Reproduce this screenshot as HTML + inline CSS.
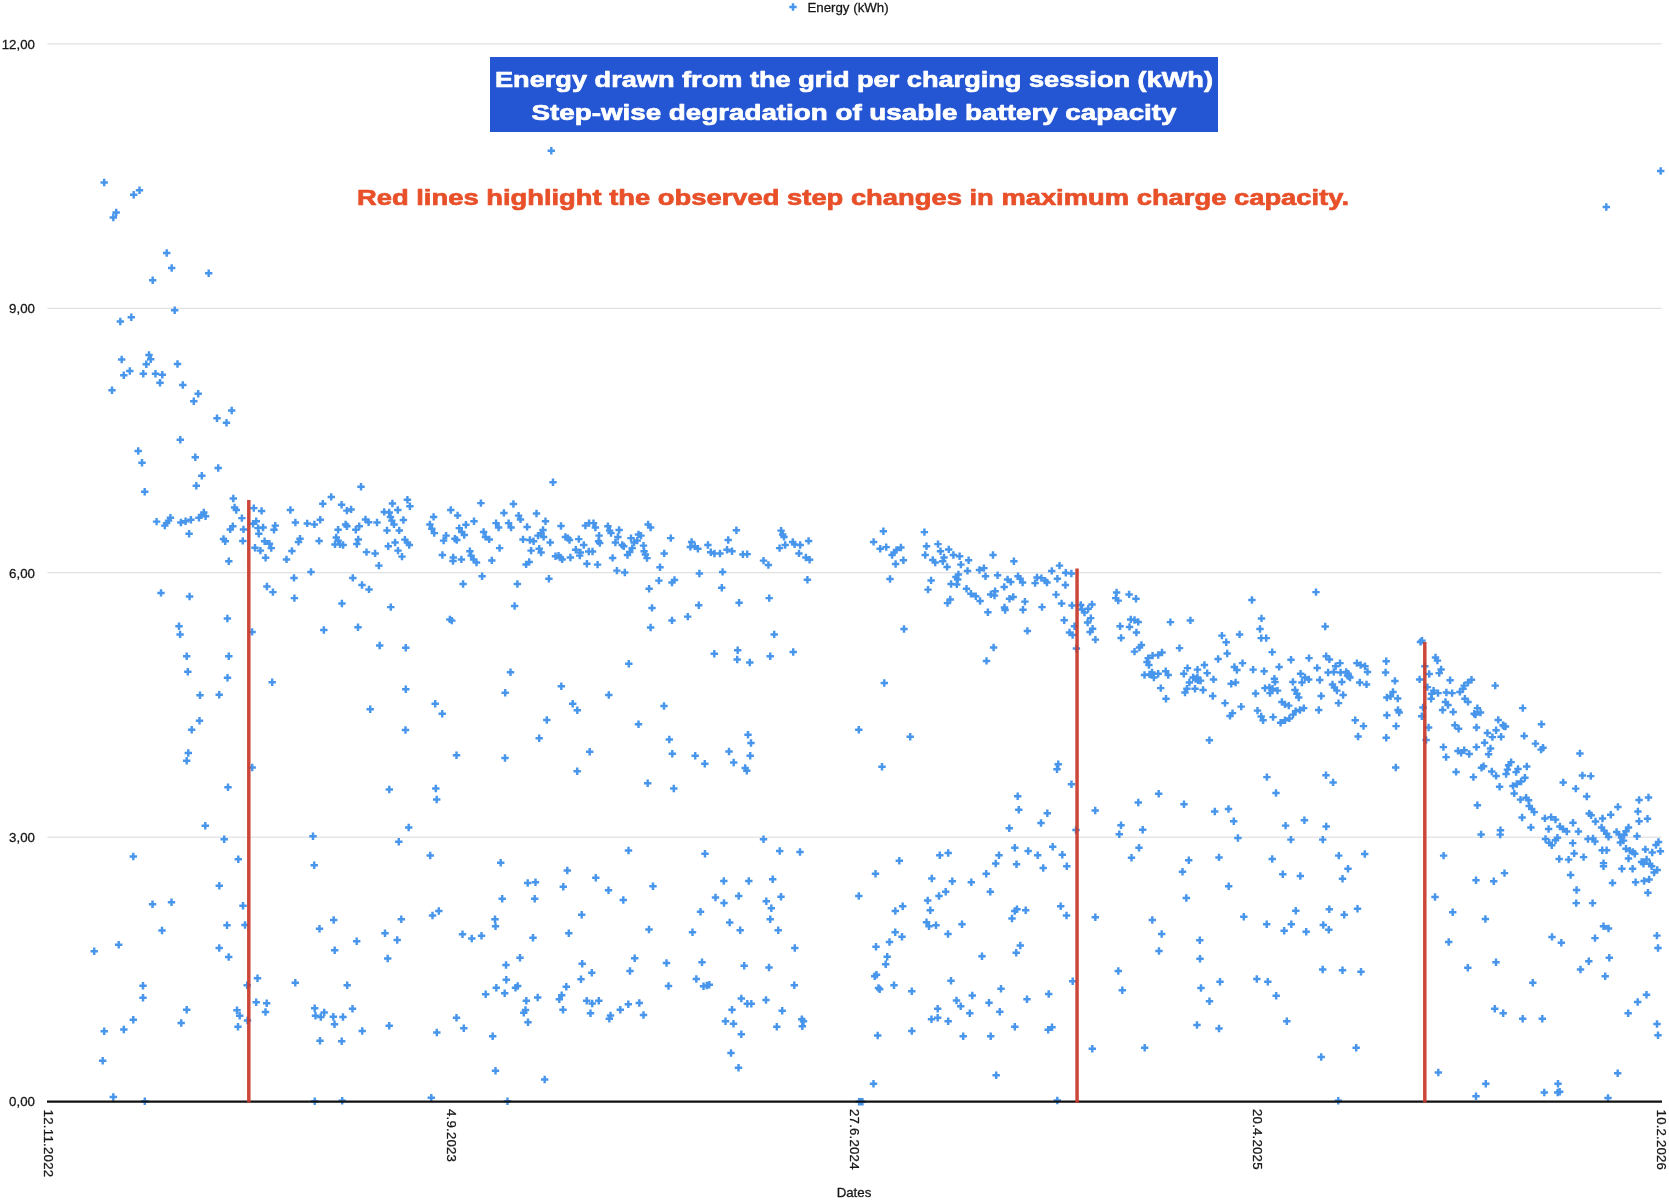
<!DOCTYPE html>
<html>
<head>
<meta charset="utf-8">
<title>Energy drawn from the grid per charging session</title>
<style>
html,body{margin:0;padding:0;background:#fff;}
body{width:1669px;height:1200px;overflow:hidden;position:relative;font-family:"Liberation Sans",sans-serif;}
svg{position:absolute;left:0;top:0;will-change:transform;}
text{font-family:"Liberation Sans",sans-serif;}
.ax{font-size:13.3px;fill:#161616;stroke:#161616;stroke-width:0.28px;}
</style>
</head>
<body>
<svg width="1669" height="1200" viewBox="0 0 1669 1200">
<rect x="0" y="0" width="1669" height="1200" fill="#ffffff"/>
<!-- gridlines -->
<g stroke="#d9d9d9" stroke-width="1">
<line x1="47.4" y1="43.9" x2="1661.6" y2="43.9"/>
<line x1="47.4" y1="308.3" x2="1661.6" y2="308.3"/>
<line x1="47.4" y1="572.75" x2="1661.6" y2="572.75"/>
<line x1="47.4" y1="837.2" x2="1661.6" y2="837.2"/>
</g>
<!-- y labels -->
<g class="ax" text-anchor="end">
<text x="35" y="48.8">12,00</text>
<text x="35" y="313.2">9,00</text>
<text x="35" y="577.6">6,00</text>
<text x="35" y="842">3,00</text>
<text x="35" y="1106.2">0,00</text>
</g>
<!-- legend -->
<path d="M789.3,7h7.4M793,3.3v7.4" stroke="#4896ec" stroke-width="2.45" fill="none"/>
<text class="ax" x="807.4" y="11.5">Energy (kWh)</text>
<!-- title -->
<rect x="490" y="57" width="728" height="75" fill="#2456d3"/>
<g font-weight="bold" font-size="22.3px" fill="#ffffff" stroke="#ffffff" stroke-width="0.7" stroke-linejoin="round" text-anchor="middle">
<text x="854" y="87" textLength="718" lengthAdjust="spacingAndGlyphs">Energy drawn from the grid per charging session (kWh)</text>
<text x="854" y="120" textLength="645" lengthAdjust="spacingAndGlyphs">Step-wise degradation of usable battery capacity</text>
</g>
<text x="853" y="205.4" font-weight="bold" font-size="22.3px" fill="#e8502a" stroke="#e8502a" stroke-width="0.7" stroke-linejoin="round" text-anchor="middle" textLength="992" lengthAdjust="spacingAndGlyphs">Red lines highlight the observed step changes in maximum charge capacity.</text>
<!-- points -->
<path id="pts" d="M100.5,182.5h7.4M104.2,178.8v7.4M135.8,190.2h7.4M139.5,186.5v7.4M130,194.7h7.4M133.7,191v7.4M112.5,212.5h7.4M116.2,208.8v7.4M109.6,217.5h7.4M113.3,213.8v7.4M163,253h7.4M166.7,249.3v7.4M168,268h7.4M171.7,264.3v7.4M205,273.2h7.4M208.7,269.5v7.4M149,280.3h7.4M152.7,276.6v7.4M171,310.2h7.4M174.7,306.5v7.4M127.6,317.2h7.4M131.3,313.5v7.4M116.6,321.5h7.4M120.3,317.8v7.4M118,359.5h7.4M121.7,355.8v7.4M145.3,355h7.4M149,351.3v7.4M147,359.2h7.4M150.7,355.5v7.4M142.6,364.3h7.4M146.3,360.6v7.4M173.8,364h7.4M177.5,360.3v7.4M126.1,371h7.4M129.8,367.3v7.4M120.1,375.3h7.4M123.8,371.6v7.4M139.6,373.8h7.4M143.3,370.1v7.4M151.8,373.8h7.4M155.5,370.1v7.4M158.6,374.7h7.4M162.3,371v7.4M156.3,382.7h7.4M160,379v7.4M179.1,385h7.4M182.8,381.3v7.4M108.3,390.3h7.4M112,386.6v7.4M194.5,393.8h7.4M198.2,390.1v7.4M190.1,401.2h7.4M193.8,397.5v7.4M228,410.5h7.4M231.7,406.8v7.4M213.3,418.3h7.4M217,414.6v7.4M222.8,422.8h7.4M226.5,419.1v7.4M176.6,439.8h7.4M180.3,436.1v7.4M134.5,451h7.4M138.2,447.3v7.4M138.3,462.8h7.4M142,459.1v7.4M191.6,457.3h7.4M195.3,453.6v7.4M214.5,468h7.4M218.2,464.3v7.4M198.1,475.8h7.4M201.8,472.1v7.4M192.6,485.7h7.4M196.3,482v7.4M141,491.7h7.4M144.7,488v7.4M229.6,498.5h7.4M233.3,494.8v7.4M152.9,521.6h7.4M156.6,517.9v7.4M166.7,517.8h7.4M170.4,514v7.4M164.8,520.6h7.4M168.5,516.9v7.4M162.9,523.1h7.4M166.6,519.4v7.4M161.1,525.6h7.4M164.8,521.9v7.4M177.2,522.5h7.4M180.9,518.8v7.4M181.9,521.2h7.4M185.6,517.5v7.4M187.2,519.8h7.4M190.9,516v7.4M195.3,517.8h7.4M199,514v7.4M197.8,515h7.4M201.5,511.3v7.4M200.1,512.5h7.4M203.8,508.8v7.4M201.9,516.2h7.4M205.6,512.5v7.4M185.4,533.8h7.4M189.1,530v7.4M230.9,507.5h7.4M234.6,503.8v7.4M232.6,510h7.4M236.2,506.3v7.4M238.2,518.1h7.4M241.9,514.4v7.4M229.1,526.2h7.4M232.8,522.5v7.4M226.6,529.4h7.4M230.2,525.7v7.4M239.8,529.4h7.4M243.5,525.7v7.4M219.8,539h7.4M223.5,535.3v7.4M221.6,541.2h7.4M225.2,537.5v7.4M239.1,540.9h7.4M242.8,537.2v7.4M225.1,561.2h7.4M228.8,557.5v7.4M157.3,592.9h7.4M161,589.2v7.4M185.9,596.5h7.4M189.6,592.8v7.4M223.7,618.5h7.4M227.4,614.8v7.4M175.3,626.2h7.4M179,622.5v7.4M176.4,634.4h7.4M180.1,630.7v7.4M250.1,508.1h7.4M253.8,504.4v7.4M257.9,510.9h7.4M261.6,507.2v7.4M286.7,510h7.4M290.4,506.3v7.4M319.1,503.8h7.4M322.8,500.1v7.4M327.6,496.9h7.4M331.2,493.2v7.4M337.9,504.8h7.4M341.6,501.1v7.4M343.2,510.6h7.4M346.9,506.9v7.4M252.6,521.2h7.4M256.2,517.5v7.4M249.4,523.8h7.4M253.1,520v7.4M254.4,528.1h7.4M258.1,524.4v7.4M259.4,527.5h7.4M263.1,523.8v7.4M255.1,533.8h7.4M258.8,530v7.4M271.6,525.6h7.4M275.2,521.9v7.4M270.3,529.8h7.4M274,526v7.4M291.7,522.5h7.4M295.4,518.8v7.4M303.6,523.4h7.4M307.2,519.7v7.4M310.7,524.4h7.4M314.4,520.7v7.4M316.6,519.8h7.4M320.2,516v7.4M334.4,529.8h7.4M338.1,526v7.4M341.9,524.4h7.4M345.6,520.7v7.4M343.2,526.2h7.4M346.9,522.5v7.4M260.9,541.2h7.4M264.6,537.5v7.4M265.7,543.8h7.4M269.4,540v7.4M267.6,548.1h7.4M271.2,544.4v7.4M251.3,547.8h7.4M255,544v7.4M256.7,550.6h7.4M260.4,546.9v7.4M261.9,557.8h7.4M265.6,554v7.4M296.3,538.8h7.4M300,535v7.4M294.8,541.9h7.4M298.5,538.2v7.4M288.2,550.9h7.4M291.9,547.2v7.4M282.8,559.4h7.4M286.5,555.7v7.4M315.4,540.9h7.4M319.1,537.2v7.4M332.6,537.5h7.4M336.2,533.8v7.4M334.4,540.6h7.4M338.1,536.9v7.4M331.3,544.4h7.4M335,540.7v7.4M336.3,544.4h7.4M340,540.7v7.4M339.4,545h7.4M343.1,541.3v7.4M307.3,571.9h7.4M311,568.2v7.4M290.3,577.9h7.4M294,574.2v7.4M263.2,586.5h7.4M266.9,582.8v7.4M269.2,592.1h7.4M272.9,588.4v7.4M290.7,598.1h7.4M294.4,594.4v7.4M338.2,603.5h7.4M341.9,599.8v7.4M248.4,631.9h7.4M252.1,628.2v7.4M320.1,630h7.4M323.8,626.3v7.4M357.3,486.8h7.4M361,483.1v7.4M347.4,509.4h7.4M351.1,505.7v7.4M355.6,526.2h7.4M359.2,522.5v7.4M352.1,529.8h7.4M355.8,526v7.4M361.8,519.4h7.4M365.5,515.7v7.4M364.9,522.2h7.4M368.6,518.5v7.4M373.3,522.5h7.4M377,518.8v7.4M354.6,539.4h7.4M358.2,535.7v7.4M353.1,544h7.4M356.8,540.3v7.4M362.8,552.1h7.4M366.5,548.4v7.4M371.4,553.4h7.4M375.1,549.7v7.4M375.2,565.6h7.4M378.9,561.9v7.4M380.6,511.9h7.4M384.2,508.2v7.4M385.6,512.5h7.4M389.2,508.8v7.4M388.7,503.5h7.4M392.4,499.8v7.4M394.1,510h7.4M397.8,506.3v7.4M386.8,516.9h7.4M390.5,513.2v7.4M388.1,520.6h7.4M391.8,516.9v7.4M390.3,524.4h7.4M394,520.7v7.4M403.7,499.8h7.4M407.4,496.1v7.4M406.2,506.2h7.4M409.9,502.6v7.4M399.7,520h7.4M403.4,516.3v7.4M383.3,530.4h7.4M387,526.7v7.4M395.6,530.4h7.4M399.2,526.7v7.4M391.4,542.5h7.4M395.1,538.8v7.4M384.6,546.2h7.4M388.2,542.5v7.4M401.2,539.6h7.4M404.9,535.9v7.4M403.7,542.5h7.4M407.4,538.8v7.4M405.6,545h7.4M409.2,541.3v7.4M394.3,550.6h7.4M398,546.9v7.4M398.3,556.6h7.4M402,552.9v7.4M349.1,577.9h7.4M352.8,574.2v7.4M358.3,585h7.4M362,581.3v7.4M365.3,589.4h7.4M369,585.7v7.4M387.1,607.1h7.4M390.8,603.4v7.4M354.3,627.2h7.4M358,623.5v7.4M429.9,516.9h7.4M433.6,513.2v7.4M426.2,524.4h7.4M429.9,520.7v7.4M428.1,528.8h7.4M431.8,525v7.4M430.6,533.1h7.4M434.2,529.4v7.4M447.1,510h7.4M450.8,506.3v7.4M453.9,515.4h7.4M457.6,511.7v7.4M470.3,521.2h7.4M474,517.5v7.4M462.2,524.8h7.4M465.9,521v7.4M455.6,528.1h7.4M459.2,524.4v7.4M458.1,531.9h7.4M461.8,528.2v7.4M460.6,535h7.4M464.2,531.3v7.4M442.4,535.6h7.4M446.1,531.9v7.4M439.9,540.6h7.4M443.6,536.9v7.4M451.2,538.8h7.4M454.9,535v7.4M453.1,540h7.4M456.8,536.3v7.4M438.7,555h7.4M442.4,551.3v7.4M449.6,557.5h7.4M453.2,553.8v7.4M449.3,561h7.4M453,557.3v7.4M457.7,559.4h7.4M461.4,555.7v7.4M466.2,551.2h7.4M469.9,547.5v7.4M467.4,555.6h7.4M471.1,551.9v7.4M469.9,559.4h7.4M473.6,555.7v7.4M472.8,562.5h7.4M476.5,558.8v7.4M477.2,503.1h7.4M480.9,499.4v7.4M479.9,531.9h7.4M483.6,528.2v7.4M481.8,536.9h7.4M485.5,533.2v7.4M485.6,539.4h7.4M489.2,535.7v7.4M495.9,548.1h7.4M499.6,544.4v7.4M488.1,560.4h7.4M491.8,556.7v7.4M478.4,576.2h7.4M482.1,572.5v7.4M459.4,584h7.4M463.1,580.3v7.4M446.2,619.4h7.4M449.9,615.7v7.4M448.1,620.6h7.4M451.8,616.9v7.4M500.2,512.9h7.4M503.9,509.2v7.4M509.7,504h7.4M513.4,500.3v7.4M492.4,523.1h7.4M496.1,519.4v7.4M494.9,527.5h7.4M498.6,523.8v7.4M504.9,523.1h7.4M508.6,519.4v7.4M507.4,527.5h7.4M511.1,523.8v7.4M514.9,515.6h7.4M518.6,511.9v7.4M516.8,519.4h7.4M520.5,515.7v7.4M523.4,526.9h7.4M527.1,523.2v7.4M532.8,513.5h7.4M536.5,509.8v7.4M541.8,521.2h7.4M545.5,517.5v7.4M539.3,530h7.4M543,526.3v7.4M537.4,533.1h7.4M541.1,529.4v7.4M534.3,535.6h7.4M538,531.9v7.4M539.9,536.9h7.4M543.6,533.2v7.4M519.3,539.4h7.4M523,535.7v7.4M526.2,540h7.4M529.9,536.3v7.4M529.9,541.2h7.4M533.6,537.5v7.4M546.5,542.5h7.4M550.2,538.8v7.4M527.4,550.6h7.4M531.1,546.9v7.4M535.5,548.8h7.4M539.2,545v7.4M537.4,552.5h7.4M541.1,548.8v7.4M525.5,561.9h7.4M529.2,558.2v7.4M522.4,564.4h7.4M526.1,560.7v7.4M551.8,556.2h7.4M555.5,552.5v7.4M545.2,578.8h7.4M548.9,575v7.4M513.7,584h7.4M517.4,580.3v7.4M510.9,606h7.4M514.6,602.3v7.4M557.3,526h7.4M561,522.3v7.4M561.7,536.9h7.4M565.4,533.2v7.4M564.2,538.1h7.4M567.9,534.4v7.4M565.8,540h7.4M569.5,536.3v7.4M575,539.1h7.4M578.8,535.4v7.4M580,545h7.4M583.8,541.3v7.4M572,549.8h7.4M575.8,546v7.4M576.7,552.5h7.4M580.4,548.8v7.4M576,555.6h7.4M579.8,551.9v7.4M585,551.5h7.4M588.8,547.8v7.4M588.8,551.5h7.4M592.5,547.8v7.4M554.8,555.6h7.4M558.5,551.9v7.4M556.7,557.5h7.4M560.4,553.8v7.4M558.5,559.4h7.4M562.2,555.7v7.4M566.7,557.5h7.4M570.4,553.8v7.4M583.2,563.8h7.4M586.9,560v7.4M593.9,564.6h7.4M597.6,560.9v7.4M581.7,525.6h7.4M585.4,521.9v7.4M585.4,523.1h7.4M589.1,519.4v7.4M589.8,523.1h7.4M593.5,519.4v7.4M591.7,527.5h7.4M595.4,523.8v7.4M595.4,535.6h7.4M599.1,531.9v7.4M594.8,541.2h7.4M598.5,537.5v7.4M596,543.1h7.4M599.8,539.4v7.4M604.2,526.2h7.4M607.9,522.5v7.4M606,530.6h7.4M609.8,526.9v7.4M607.3,533.1h7.4M611,529.4v7.4M615.4,530h7.4M619.1,526.3v7.4M614.2,536.9h7.4M617.9,533.2v7.4M611.7,542.5h7.4M615.4,538.8v7.4M618.5,545h7.4M622.2,541.3v7.4M620,546.2h7.4M623.8,542.5v7.4M608.9,557.9h7.4M612.6,554.2v7.4M613.2,570.6h7.4M616.9,566.9v7.4M621,572.5h7.4M624.8,568.8v7.4M627.3,538.1h7.4M631,534.4v7.4M630.4,542.5h7.4M634.1,538.8v7.4M628.5,548.1h7.4M632.2,544.4v7.4M626,551.9h7.4M629.8,548.2v7.4M623.8,555h7.4M627.5,551.3v7.4M634.8,534.4h7.4M638.5,530.7v7.4M637.3,535.6h7.4M641,531.9v7.4M633.5,540.6h7.4M637.2,536.9v7.4M639.8,545.6h7.4M643.5,541.9v7.4M640.4,551.2h7.4M644.1,547.5v7.4M641.7,554.4h7.4M645.4,550.7v7.4M643.3,558.1h7.4M647,554.4v7.4M644.4,524.4h7.4M648.1,520.7v7.4M646.9,527.5h7.4M650.6,523.8v7.4M667,538.1h7.4M670.8,534.4v7.4M660.5,553.4h7.4M664.2,549.7v7.4M656.3,567.2h7.4M660,563.5v7.4M655.2,580.6h7.4M658.9,576.9v7.4M670.8,580h7.4M674.5,576.3v7.4M668.3,582.5h7.4M672,578.8v7.4M645.4,588.8h7.4M649.1,585v7.4M648.3,607.9h7.4M652,604.2v7.4M646.9,627.5h7.4M650.6,623.8v7.4M668.3,620.4h7.4M672,616.7v7.4M684,616.6h7.4M687.8,612.9v7.4M695,605.2h7.4M698.8,601.5v7.4M695.7,573.5h7.4M699.4,569.8v7.4M687.9,541.9h7.4M691.6,538.2v7.4M686.7,546.9h7.4M690.4,543.2v7.4M691,546.2h7.4M694.8,542.5v7.4M694.2,548.8h7.4M697.9,545v7.4M704.2,545h7.4M707.9,541.3v7.4M707,552.2h7.4M710.8,548.5v7.4M710.8,553.5h7.4M714.5,549.8v7.4M716.3,553.5h7.4M720,549.8v7.4M723.3,549.8h7.4M727,546v7.4M728.3,551.2h7.4M732,547.5v7.4M724.5,540h7.4M728.2,536.3v7.4M732.7,530.2h7.4M736.4,526.5v7.4M739.2,554.4h7.4M742.9,550.7v7.4M743.5,554.1h7.4M747.2,550.4v7.4M718.9,571.9h7.4M722.6,568.2v7.4M718,587.8h7.4M721.8,584v7.4M735.4,602.8h7.4M739.1,599v7.4M759.8,560.6h7.4M763.5,556.9v7.4M764.7,565h7.4M768.4,561.3v7.4M777.4,530.6h7.4M781.1,526.9v7.4M779,534.4h7.4M782.8,530.7v7.4M780.3,536.9h7.4M784,533.2v7.4M775.9,548.1h7.4M779.6,544.4v7.4M781.5,545h7.4M785.2,541.3v7.4M789,541.9h7.4M792.8,538.2v7.4M790.9,544.4h7.4M794.6,540.7v7.4M796.5,545h7.4M800.2,541.3v7.4M804.9,540.9h7.4M808.6,537.2v7.4M795.3,553.4h7.4M799,549.7v7.4M802.2,557.5h7.4M805.9,553.8v7.4M805.9,559.8h7.4M809.6,556v7.4M803.7,579.8h7.4M807.4,576v7.4M765.5,598.1h7.4M769.2,594.4v7.4M770.5,634.4h7.4M774.2,630.7v7.4M879.7,531.2h7.4M883.4,527.5v7.4M869.9,541.9h7.4M873.6,538.2v7.4M876.5,548.8h7.4M880.2,545v7.4M882.5,547.1h7.4M886.2,543.4v7.4M897.2,547.5h7.4M900.9,543.8v7.4M892.8,550h7.4M896.5,546.3v7.4M890.3,552.5h7.4M894,548.8v7.4M888.4,555h7.4M892.1,551.3v7.4M899.7,560.2h7.4M903.4,556.5v7.4M891.9,564h7.4M895.6,560.3v7.4M886.3,579h7.4M890,575.3v7.4M900.3,629h7.4M904,625.3v7.4M920.7,532.1h7.4M924.4,528.4v7.4M922.8,546.2h7.4M926.5,542.5v7.4M921.5,555h7.4M925.2,551.3v7.4M934.3,544.1h7.4M938,540.4v7.4M936.8,551.2h7.4M940.5,547.5v7.4M945,549.4h7.4M948.8,545.7v7.4M940.3,557.5h7.4M944,553.8v7.4M939,561.2h7.4M942.8,557.5v7.4M929,560h7.4M932.8,556.3v7.4M931.5,562.5h7.4M935.2,558.8v7.4M949.7,555h7.4M953.4,551.3v7.4M955.9,556.2h7.4M959.6,552.5v7.4M943.4,566.9h7.4M947.1,563.2v7.4M957.2,564.6h7.4M960.9,560.9v7.4M964.9,560.2h7.4M968.6,556.5v7.4M963.8,570.9h7.4M967.5,567.2v7.4M954.7,574.4h7.4M958.4,570.7v7.4M952.2,576.9h7.4M955.9,573.2v7.4M954,579.4h7.4M957.8,575.7v7.4M947.4,584h7.4M951.1,580.3v7.4M953,584.4h7.4M956.8,580.7v7.4M927.4,580.4h7.4M931.1,576.7v7.4M924.3,589.6h7.4M928,585.9v7.4M946.5,599.4h7.4M950.2,595.7v7.4M943.8,603.1h7.4M947.5,599.4v7.4M962.8,588.8h7.4M966.5,585v7.4M967.2,593.8h7.4M970.9,590v7.4M972,596.2h7.4M975.8,592.5v7.4M976.4,601h7.4M980.1,597.3v7.4M989.3,555h7.4M993,551.3v7.4M1010.2,561.2h7.4M1013.9,557.5v7.4M975.8,570h7.4M979.5,566.3v7.4M980.2,568.1h7.4M983.9,564.4v7.4M981.8,576.2h7.4M985.5,572.5v7.4M993.9,575.2h7.4M997.6,571.5v7.4M1003.9,579.4h7.4M1007.6,575.7v7.4M1007,581.9h7.4M1010.8,578.2v7.4M1000.5,586.9h7.4M1004.2,583.2v7.4M1014.3,576.2h7.4M1018,572.5v7.4M1016.4,578.8h7.4M1020.1,575v7.4M1018.9,582.5h7.4M1022.6,578.8v7.4M987,594.4h7.4M990.8,590.7v7.4M991.4,591.2h7.4M995.1,587.5v7.4M990.8,595.6h7.4M994.5,591.9v7.4M1005.8,598.8h7.4M1009.5,595v7.4M1009.5,596.9h7.4M1013.2,593.2v7.4M1000.8,607.5h7.4M1004.5,603.8v7.4M1001.4,610h7.4M1005.1,606.3v7.4M984.2,612.2h7.4M987.9,608.5v7.4M1021.2,601.6h7.4M1024.9,597.9v7.4M1019.3,609.8h7.4M1023,606v7.4M1038.3,607.1h7.4M1042,603.4v7.4M1023.7,630.9h7.4M1027.4,627.2v7.4M989.9,647.5h7.4M993.6,643.8v7.4M982.8,660.9h7.4M986.5,657.2v7.4M1033.3,577.5h7.4M1037,573.8v7.4M1031.4,583.1h7.4M1035.1,579.4v7.4M1037.7,578.1h7.4M1041.4,574.4v7.4M1041.4,580.6h7.4M1045.1,576.9v7.4M1043.3,582.5h7.4M1047,578.8v7.4M1048,570.9h7.4M1051.8,567.2v7.4M1055.8,565.6h7.4M1059.5,561.9v7.4M1062,572.8h7.4M1065.8,569v7.4M1067.7,573.5h7.4M1071.4,569.8v7.4M1053.7,578.8h7.4M1057.4,575v7.4M1061.7,585h7.4M1065.4,581.3v7.4M1052.4,594.6h7.4M1056.1,590.9v7.4M1057.9,603.4h7.4M1061.6,599.7v7.4M1068.3,605.4h7.4M1072,601.7v7.4M1060.5,620.2h7.4M1064.2,616.5v7.4M1065.8,632.5h7.4M1069.5,628.8v7.4M1068.9,635h7.4M1072.6,631.3v7.4M1070.8,626.2h7.4M1074.5,622.5v7.4M1072.7,648.5h7.4M1076.4,644.8v7.4M1077,605h7.4M1080.8,601.3v7.4M1078.3,609.4h7.4M1082,605.7v7.4M1080.8,612.5h7.4M1084.5,608.8v7.4M1084.5,608.8h7.4M1088.2,605v7.4M1088.3,604.4h7.4M1092,600.7v7.4M1087,618.1h7.4M1090.8,614.4v7.4M1083.9,622.5h7.4M1087.6,618.8v7.4M1088.9,628.8h7.4M1092.6,625v7.4M1086.4,631.9h7.4M1090.1,628.2v7.4M1091.7,639.6h7.4M1095.4,635.9v7.4M1112.9,592.5h7.4M1116.6,588.8v7.4M1112,598.1h7.4M1115.8,594.4v7.4M1114.5,600.6h7.4M1118.2,596.9v7.4M1125.4,594.4h7.4M1129.1,590.7v7.4M1132.3,598.8h7.4M1136,595v7.4M1127,619.4h7.4M1130.8,615.7v7.4M1130.8,620h7.4M1134.5,616.3v7.4M1134.5,621.9h7.4M1138.2,618.2v7.4M1125.8,626.9h7.4M1129.5,623.2v7.4M1116.4,626.2h7.4M1120.1,622.5v7.4M1132.7,632.5h7.4M1136.4,628.8v7.4M1117.4,637.9h7.4M1121.1,634.2v7.4M1166.7,622.1h7.4M1170.4,618.4v7.4M1137.7,645h7.4M1141.4,641.3v7.4M1135.8,647.5h7.4M1139.5,643.8v7.4M1130.8,651.6h7.4M1134.5,647.9v7.4M1158.3,652.5h7.4M1162,648.8v7.4M1154.5,655h7.4M1158.2,651.3v7.4M1148.9,655.6h7.4M1152.6,651.9v7.4M1144.5,658.1h7.4M1148.2,654.4v7.4M1143.3,661.9h7.4M1147,658.2v7.4M1145.2,665h7.4M1148.9,661.3v7.4M1140.8,675h7.4M1144.5,671.3v7.4M1145.8,674.4h7.4M1149.5,670.7v7.4M1148.3,672.5h7.4M1152,668.8v7.4M1150.2,677.5h7.4M1153.9,673.8v7.4M1154.5,673.8h7.4M1158.2,670v7.4M1162,671.2h7.4M1165.8,667.5v7.4M1164.5,675h7.4M1168.2,671.3v7.4M1157,688.1h7.4M1160.8,684.4v7.4M1175.8,648.1h7.4M1179.5,644.4v7.4M1186.7,620.4h7.4M1190.4,616.7v7.4M1248.2,600h7.4M1251.9,596.3v7.4M1312.3,592.1h7.4M1316,588.4v7.4M1257.8,618.4h7.4M1261.5,614.7v7.4M1256.3,629h7.4M1260,625.3v7.4M1257.5,638.1h7.4M1261.2,634.4v7.4M1262.5,638.1h7.4M1266.2,634.4v7.4M1321.5,626.5h7.4M1325.2,622.8v7.4M1218.2,635.6h7.4M1221.9,631.9v7.4M1222.5,642.2h7.4M1226.2,638.5v7.4M1235.9,634.4h7.4M1239.6,630.7v7.4M1223.5,653.5h7.4M1227.2,649.8v7.4M1214.4,659h7.4M1218.1,655.3v7.4M1268.5,652.1h7.4M1272.2,648.4v7.4M1287.3,659.8h7.4M1291,656v7.4M1305.3,658.1h7.4M1309,654.4v7.4M1322.5,656.2h7.4M1326.2,652.5v7.4M1325.7,659.4h7.4M1329.4,655.7v7.4M1200.7,665h7.4M1204.4,661.3v7.4M1193.8,669.6h7.4M1197.5,665.9v7.4M1183.8,668.1h7.4M1187.5,664.4v7.4M1180,673.8h7.4M1183.8,670v7.4M1203.5,673.1h7.4M1207.2,669.4v7.4M1209.8,679.4h7.4M1213.5,675.7v7.4M1238.8,663.1h7.4M1242.5,659.4v7.4M1230.7,666.9h7.4M1234.4,663.2v7.4M1233.2,670h7.4M1236.9,666.3v7.4M1249.4,669.6h7.4M1253.1,665.9v7.4M1260.4,671.2h7.4M1264.1,667.5v7.4M1275.4,666.9h7.4M1279.1,663.2v7.4M1313.5,667.9h7.4M1317.2,664.2v7.4M1336.3,663.1h7.4M1340,659.4v7.4M1331.9,666.2h7.4M1335.6,662.5v7.4M1324.4,672.5h7.4M1328.1,668.8v7.4M1330,671.9h7.4M1333.8,668.2v7.4M1336.9,672.5h7.4M1340.6,668.8v7.4M1342.5,671.9h7.4M1346.2,668.2v7.4M1343.8,675.6h7.4M1347.5,671.9v7.4M1346.3,677.5h7.4M1350,673.8v7.4M1353.2,663.1h7.4M1356.9,659.4v7.4M1356.9,665h7.4M1360.6,661.3v7.4M1361.3,666.2h7.4M1365,662.5v7.4M1363.8,671.9h7.4M1367.5,668.2v7.4M1382.5,661.2h7.4M1386.2,657.5v7.4M1381.9,672.5h7.4M1385.6,668.8v7.4M1189.4,677.5h7.4M1193.1,673.8v7.4M1193.8,677.5h7.4M1197.5,673.8v7.4M1196.9,680.6h7.4M1200.6,676.9v7.4M1185.7,682.5h7.4M1189.4,678.8v7.4M1183.2,688.8h7.4M1186.9,685v7.4M1181.3,692.5h7.4M1185,688.8v7.4M1191.3,688.8h7.4M1195,685v7.4M1199.4,690h7.4M1203.1,686.3v7.4M1209,696h7.4M1212.8,692.3v7.4M1227.5,683.8h7.4M1231.2,680v7.4M1231.9,682.5h7.4M1235.6,678.8v7.4M1270.7,678.8h7.4M1274.4,675v7.4M1271.3,681.9h7.4M1275,678.2v7.4M1296.9,673.8h7.4M1300.6,670v7.4M1301.3,677.5h7.4M1305,673.8v7.4M1305,679.4h7.4M1308.8,675.7v7.4M1298.2,682.5h7.4M1301.9,678.8v7.4M1289.2,681.9h7.4M1292.9,678.2v7.4M1316,680h7.4M1319.8,676.3v7.4M1338.2,681.9h7.4M1341.9,678.2v7.4M1356,682.5h7.4M1359.8,678.8v7.4M1362.8,684.4h7.4M1366.5,680.7v7.4M1328.8,684.4h7.4M1332.5,680.7v7.4M1330.7,687.5h7.4M1334.4,683.8v7.4M1333.2,690.6h7.4M1336.9,686.9v7.4M1339.4,695h7.4M1343.1,691.3v7.4M1261.3,688.1h7.4M1265,684.4v7.4M1265.7,687.5h7.4M1269.4,683.8v7.4M1268.8,688.8h7.4M1272.5,685v7.4M1266.3,693.1h7.4M1270,689.4v7.4M1273.8,690.6h7.4M1277.5,686.9v7.4M1251.9,693.5h7.4M1255.6,689.8v7.4M1291.3,690h7.4M1295,686.3v7.4M1293.2,693.8h7.4M1296.9,690v7.4M1295,697.5h7.4M1298.8,693.8v7.4M1317.5,696h7.4M1321.2,692.3v7.4M1334.8,703.1h7.4M1338.5,699.4v7.4M1221.3,703.1h7.4M1225,699.4v7.4M1237.5,706.6h7.4M1241.2,702.9v7.4M1278.2,701.9h7.4M1281.9,698.2v7.4M1281.3,704.4h7.4M1285,700.7v7.4M1285,705.6h7.4M1288.8,701.9v7.4M1300,708.1h7.4M1303.8,704.4v7.4M1296.3,710h7.4M1300,706.3v7.4M1291.9,711.2h7.4M1295.6,707.5v7.4M1315,710h7.4M1318.8,706.3v7.4M1253.8,710.6h7.4M1257.5,706.9v7.4M1228.8,713.1h7.4M1232.5,709.4v7.4M1383.2,697.5h7.4M1386.9,693.8v7.4M1416.8,641.9h7.4M1420.5,638.2v7.4M1418.3,640.6h7.4M1422,636.9v7.4M1431.8,657.5h7.4M1435.5,653.8v7.4M1433.7,660.6h7.4M1437.4,656.9v7.4M1421.2,666.2h7.4M1424.9,662.5v7.4M1437.4,669.4h7.4M1441.1,665.7v7.4M1435.5,673.1h7.4M1439.2,669.4v7.4M1425.5,674h7.4M1429.2,670.3v7.4M1415.9,679.4h7.4M1419.6,675.7v7.4M1391.2,680.9h7.4M1394.9,677.2v7.4M1446.4,680.2h7.4M1450.1,676.5v7.4M1467.8,679.8h7.4M1471.5,676v7.4M1464.3,682.5h7.4M1468,678.8v7.4M1460.5,685.6h7.4M1464.2,681.9v7.4M1459.3,688.8h7.4M1463,685v7.4M1456.2,691.9h7.4M1459.9,688.2v7.4M1491.5,685.6h7.4M1495.2,681.9v7.4M1423.7,687.1h7.4M1427.4,683.4v7.4M1389.3,691.9h7.4M1393,688.2v7.4M1386.8,696.2h7.4M1390.5,692.5v7.4M1394,698.5h7.4M1397.8,694.8v7.4M1429.9,690.6h7.4M1433.6,686.9v7.4M1428,693.8h7.4M1431.8,690v7.4M1434.3,693.1h7.4M1438,689.4v7.4M1427.4,698.8h7.4M1431.1,695v7.4M1442.7,692.5h7.4M1446.4,688.8v7.4M1448.4,693.1h7.4M1452.1,689.4v7.4M1461.2,698.8h7.4M1464.9,695v7.4M1464.3,701.9h7.4M1468,698.2v7.4M1441.8,701.9h7.4M1445.5,698.2v7.4M1444.3,705h7.4M1448,701.3v7.4M1438.9,710h7.4M1442.6,706.3v7.4M1449.5,711.9h7.4M1453.2,708.2v7.4M1394.3,710h7.4M1398,706.3v7.4M1395.5,712.5h7.4M1399.2,708.8v7.4M1419.3,707.5h7.4M1423,703.8v7.4M1473.7,708.1h7.4M1477.4,704.4v7.4M1476.8,712.5h7.4M1480.5,708.8v7.4M1470.5,713.8h7.4M1474.2,710v7.4M1519,708.1h7.4M1522.8,704.4v7.4M1226.3,715.9h7.4M1230,712.2v7.4M1257.5,716.5h7.4M1261.2,712.8v7.4M1259.4,720.2h7.4M1263.1,716.5v7.4M1269.4,717.1h7.4M1273.1,713.4v7.4M1276.9,722.8h7.4M1280.6,719v7.4M1281.3,720.2h7.4M1285,716.5v7.4M1285.7,718.4h7.4M1289.4,714.7v7.4M1289.4,714.6h7.4M1293.1,710.9v7.4M1351.5,720.2h7.4M1355.2,716.5v7.4M1359.8,726.1h7.4M1363.5,722.4v7.4M1354.4,736.5h7.4M1358.1,732.8v7.4M1382.5,737.8h7.4M1386.2,734v7.4M1383.2,715.2h7.4M1386.9,711.5v7.4M1205.7,740.2h7.4M1209.4,736.5v7.4M1263.2,777.1h7.4M1266.9,773.4v7.4M1272.3,793h7.4M1276,789.3v7.4M1322.3,775.2h7.4M1326,771.5v7.4M1329.4,782.4h7.4M1333.1,778.7v7.4M1180.3,804.2h7.4M1184,800.5v7.4M1211,811.5h7.4M1214.8,807.8v7.4M1224.8,809h7.4M1228.5,805.3v7.4M1230,821.2h7.4M1233.8,817.5v7.4M1234.2,838h7.4M1237.9,834.3v7.4M1281.9,825.6h7.4M1285.6,821.9v7.4M1300.7,820.2h7.4M1304.4,816.5v7.4M1322.5,826.5h7.4M1326.2,822.8v7.4M1287.2,839.6h7.4M1290.9,835.9v7.4M1319,839.6h7.4M1322.8,835.9v7.4M1335,855.6h7.4M1338.8,851.9v7.4M1361,854h7.4M1364.8,850.3v7.4M1215.3,857.4h7.4M1219,853.7v7.4M1268.5,859h7.4M1272.2,855.3v7.4M1185,860.2h7.4M1188.8,856.5v7.4M1418,716.2h7.4M1421.8,712.5v7.4M1392.4,726.1h7.4M1396.1,722.4v7.4M1392,767.5h7.4M1395.8,763.8v7.4M1424.9,727.5h7.4M1428.6,723.8v7.4M1422.4,740h7.4M1426.1,736.3v7.4M1451.2,725.2h7.4M1454.9,721.5v7.4M1454.9,728.8h7.4M1458.6,725v7.4M1472.8,727.5h7.4M1476.5,723.8v7.4M1494.5,719.9h7.4M1498.2,716.2v7.4M1499.3,725.2h7.4M1503,721.5v7.4M1501.8,726.5h7.4M1505.5,722.8v7.4M1492.4,730.2h7.4M1496.1,726.5v7.4M1497.4,736.8h7.4M1501.1,733v7.4M1483.7,733h7.4M1487.4,729.3v7.4M1488.7,737.1h7.4M1492.4,733.4v7.4M1480.9,742.8h7.4M1484.6,739v7.4M1472.7,747.1h7.4M1476.4,743.4v7.4M1439.7,747.1h7.4M1443.4,743.4v7.4M1442.4,757.1h7.4M1446.1,753.4v7.4M1454.3,750.9h7.4M1458,747.2v7.4M1457.4,752.8h7.4M1461.1,749v7.4M1460.5,750.2h7.4M1464.2,746.5v7.4M1465.5,754h7.4M1469.2,750.3v7.4M1486.8,748.4h7.4M1490.5,744.7v7.4M1484.9,754.2h7.4M1488.6,750.5v7.4M1537.8,724.2h7.4M1541.5,720.5v7.4M1520.5,735.9h7.4M1524.2,732.2v7.4M1531.8,743.6h7.4M1535.5,739.9v7.4M1537.4,749.6h7.4M1541.1,745.9v7.4M1539.3,747.8h7.4M1543,744v7.4M1576.2,753.4h7.4M1579.9,749.7v7.4M1477.8,767.8h7.4M1481.5,764v7.4M1479.9,766.2h7.4M1483.6,762.5v7.4M1452.4,771.9h7.4M1456.1,768.2v7.4M1469.7,777.1h7.4M1473.4,773.4v7.4M1488,771.5h7.4M1491.8,767.8v7.4M1492.4,775.9h7.4M1496.1,772.2v7.4M1507.4,762.1h7.4M1511.1,758.4v7.4M1504.9,765.2h7.4M1508.6,761.5v7.4M1503.7,769.6h7.4M1507.4,765.9v7.4M1502.4,774h7.4M1506.1,770.3v7.4M1514.3,769h7.4M1518,765.3v7.4M1512.4,772.1h7.4M1516.1,768.4v7.4M1523,766.5h7.4M1526.8,762.8v7.4M1521.2,777.8h7.4M1524.9,774v7.4M1517.4,781.5h7.4M1521.1,777.8v7.4M1513,784h7.4M1516.8,780.3v7.4M1509.3,785.9h7.4M1513,782.2v7.4M1495.9,786.8h7.4M1499.6,783v7.4M1510.5,793.4h7.4M1514.2,789.7v7.4M1516.8,799.6h7.4M1520.5,795.9v7.4M1522.4,797.8h7.4M1526.1,794v7.4M1524.9,800.2h7.4M1528.6,796.5v7.4M1525.5,805.9h7.4M1529.2,802.2v7.4M1528,809h7.4M1531.8,805.3v7.4M1530.5,812.1h7.4M1534.2,808.4v7.4M1473.7,805.2h7.4M1477.4,801.5v7.4M1518.4,817.5h7.4M1522.1,813.8v7.4M1527.2,827.4h7.4M1530.9,823.7v7.4M1559.5,782.4h7.4M1563.2,778.7v7.4M1578.7,775.5h7.4M1582.4,771.8v7.4M1587,776.1h7.4M1590.8,772.4v7.4M1572,788.6h7.4M1575.8,784.9v7.4M1583,796.5h7.4M1586.8,792.8v7.4M1585.5,813.4h7.4M1589.2,809.7v7.4M1587.4,815.2h7.4M1591.1,811.5v7.4M1591.8,821.5h7.4M1595.5,817.8v7.4M1541.2,818.4h7.4M1544.9,814.7v7.4M1547.4,817.1h7.4M1551.1,813.4v7.4M1551.8,819.6h7.4M1555.5,815.9v7.4M1569.3,822.8h7.4M1573,819v7.4M1544.9,829h7.4M1548.6,825.3v7.4M1556.2,826.5h7.4M1559.9,822.8v7.4M1559.3,829h7.4M1563,825.3v7.4M1563,831.5h7.4M1566.8,827.8v7.4M1574.7,831.5h7.4M1578.4,827.8v7.4M1477.4,834.4h7.4M1481.1,830.7v7.4M1496.8,830.2h7.4M1500.5,826.5v7.4M1496.5,834.6h7.4M1500.2,830.9v7.4M1541.8,839h7.4M1545.5,835.3v7.4M1545.5,842.8h7.4M1549.2,839v7.4M1548,845.2h7.4M1551.8,841.5v7.4M1551.8,840.2h7.4M1555.5,836.5v7.4M1553.7,837.8h7.4M1557.4,834v7.4M1569,843.1h7.4M1572.8,839.4v7.4M1584.3,839h7.4M1588,835.3v7.4M1589.3,838.4h7.4M1593,834.7v7.4M1591.2,841.5h7.4M1594.9,837.8v7.4M1439.9,855.6h7.4M1443.6,851.9v7.4M1570.5,853.4h7.4M1574.2,849.7v7.4M1555.5,859h7.4M1559.2,855.3v7.4M1564.9,859.6h7.4M1568.6,855.9v7.4M1579.9,857.1h7.4M1583.6,853.4v7.4M1614.2,806.9h7.4M1617.9,803.2v7.4M1607,814.8h7.4M1610.8,811v7.4M1598.8,818.5h7.4M1602.5,814.8v7.4M1635.4,800h7.4M1639.1,796.3v7.4M1644.8,797.5h7.4M1648.5,793.8v7.4M1634.2,811.5h7.4M1637.9,807.8v7.4M1635.4,821.2h7.4M1639.1,817.5v7.4M1643.8,818.8h7.4M1647.5,815v7.4M1597.9,827.5h7.4M1601.6,823.8v7.4M1600.4,830.6h7.4M1604.1,826.9v7.4M1602.9,833.8h7.4M1606.6,830v7.4M1604.8,836.9h7.4M1608.5,833.2v7.4M1612.9,831.9h7.4M1616.6,828.2v7.4M1615.4,834.4h7.4M1619.1,830.7v7.4M1617.9,837.5h7.4M1621.6,833.8v7.4M1624.8,827.5h7.4M1628.5,823.8v7.4M1622.3,831.2h7.4M1626,827.5v7.4M1620.4,835h7.4M1624.1,831.3v7.4M1616.7,842.5h7.4M1620.4,838.8v7.4M1619.8,840.6h7.4M1623.5,836.9v7.4M1633.3,836.2h7.4M1637,832.5v7.4M1654.8,841.9h7.4M1658.5,838.2v7.4M1652.3,845h7.4M1656,841.3v7.4M1641.7,849.4h7.4M1645.4,845.7v7.4M1648.5,852.5h7.4M1652.2,848.8v7.4M1656.7,851.2h7.4M1660.4,847.5v7.4M1598.5,850.2h7.4M1602.2,846.5v7.4M1602.9,850.2h7.4M1606.6,846.5v7.4M1622.3,848.8h7.4M1626,845v7.4M1626,850.6h7.4M1629.8,846.9v7.4M1629.2,851.9h7.4M1632.9,848.2v7.4M1631,853.8h7.4M1634.8,850v7.4M1624.8,858.5h7.4M1628.5,854.8v7.4M1599.8,863.1h7.4M1603.5,859.4v7.4M1599.8,866.2h7.4M1603.5,862.5v7.4M1637.9,861.9h7.4M1641.6,858.2v7.4M1639.8,863.8h7.4M1643.5,860v7.4M1642.9,859.4h7.4M1646.6,855.7v7.4M1646,863.8h7.4M1649.8,860v7.4M1647.9,866.2h7.4M1651.6,862.5v7.4M1653.5,870h7.4M1657.2,866.3v7.4M1650.4,872.5h7.4M1654.1,868.8v7.4M1618.2,868.8h7.4M1621.9,865v7.4M1628.9,868.8h7.4M1632.6,865v7.4M1608.8,882.9h7.4M1612.5,879.2v7.4M1631.9,882.2h7.4M1635.6,878.5v7.4M1640.4,881h7.4M1644.1,877.3v7.4M1645.4,879.4h7.4M1649.1,875.7v7.4M1644.2,892.8h7.4M1647.9,889v7.4M1599.8,926.2h7.4M1603.5,922.5v7.4M1604.8,928.5h7.4M1608.5,924.8v7.4M1653.2,935.6h7.4M1656.9,931.9v7.4M1566.9,875h7.4M1570.6,871.3v7.4M1500.8,873.1h7.4M1504.5,869.4v7.4M1490,881.2h7.4M1493.8,877.5v7.4M1472.3,880.2h7.4M1476,876.5v7.4M1572.9,890h7.4M1576.6,886.3v7.4M1572.5,903.1h7.4M1576.2,899.4v7.4M1588.9,903.1h7.4M1592.6,899.4v7.4M1481.7,919h7.4M1485.4,915.3v7.4M1548.3,936.9h7.4M1552,933.2v7.4M1591.3,938.1h7.4M1595,934.4v7.4M183,656.3h7.4M186.7,652.6v7.4M225.1,656.3h7.4M228.8,652.6v7.4M184.1,671.7h7.4M187.8,668v7.4M223.8,677.8h7.4M227.5,674.1v7.4M268.5,682.2h7.4M272.2,678.5v7.4M196.3,695.3h7.4M200,691.6v7.4M215.5,694.7h7.4M219.2,691v7.4M195.8,720.8h7.4M199.5,717.1v7.4M188,729.7h7.4M191.7,726v7.4M184.6,753h7.4M188.3,749.3v7.4M183,760.8h7.4M186.7,757.1v7.4M248.5,767.5h7.4M252.2,763.8v7.4M224.3,787.2h7.4M228,783.5v7.4M201.6,825.8h7.4M205.3,822.1v7.4M220.5,839.2h7.4M224.2,835.5v7.4M309.3,836.2h7.4M313,832.5v7.4M129.6,856.5h7.4M133.3,852.8v7.4M234.6,859.2h7.4M238.3,855.5v7.4M310.5,865.3h7.4M314.2,861.6v7.4M215.6,885.8h7.4M219.3,882.1v7.4M148.8,904.2h7.4M152.5,900.5v7.4M167.8,902.2h7.4M171.5,898.5v7.4M239.3,905.8h7.4M243,902.1v7.4M223.3,925.3h7.4M227,921.6v7.4M241.3,925h7.4M245,921.3v7.4M158.3,930.5h7.4M162,926.8v7.4M330,920h7.4M333.7,916.3v7.4M315.8,928.8h7.4M319.5,925.1v7.4M90.5,951.2h7.4M94.2,947.5v7.4M115,944.7h7.4M118.7,941v7.4M215.5,948h7.4M219.2,944.3v7.4M225,957h7.4M228.7,953.3v7.4M331,950.3h7.4M334.7,946.6v7.4M353,941.3h7.4M356.7,937.6v7.4M139.3,985.8h7.4M143,982.1v7.4M139.3,997.8h7.4M143,994.1v7.4M253.8,978.3h7.4M257.5,974.6v7.4M243.5,985.3h7.4M247.2,981.6v7.4M291.6,982.8h7.4M295.3,979.1v7.4M343.5,985.3h7.4M347.2,981.6v7.4M252.5,1002.2h7.4M256.2,998.5v7.4M263,1003.3h7.4M266.7,999.6v7.4M261.8,1012h7.4M265.5,1008.3v7.4M183,1009.7h7.4M186.7,1006v7.4M177.5,1023h7.4M181.2,1019.3v7.4M129.6,1019.7h7.4M133.3,1016v7.4M120.1,1029.5h7.4M123.8,1025.8v7.4M100.5,1031.2h7.4M104.2,1027.5v7.4M233.3,1010.3h7.4M237,1006.6v7.4M236,1015.8h7.4M239.7,1012.1v7.4M243.8,1020.5h7.4M247.5,1016.8v7.4M234.3,1026.7h7.4M238,1023v7.4M311,1008.3h7.4M314.7,1004.6v7.4M311.8,1015.8h7.4M315.5,1012.1v7.4M317.1,1017h7.4M320.8,1013.3v7.4M320.5,1012.5h7.4M324.2,1008.8v7.4M329.6,1016.7h7.4M333.3,1013v7.4M330.8,1024.2h7.4M334.5,1020.5v7.4M339.3,1017h7.4M343,1013.3v7.4M348.8,1008.8h7.4M352.5,1005.1v7.4M316.3,1040.8h7.4M320,1037.1v7.4M338,1041.3h7.4M341.7,1037.6v7.4M99,1060.8h7.4M102.7,1057.1v7.4M109.6,1097h7.4M113.3,1093.3v7.4M141.1,1101.3h7.4M144.8,1097.6v7.4M311,1101.3h7.4M314.7,1097.6v7.4M338.5,1100.8h7.4M342.2,1097.1v7.4M376,645.5h7.4M379.7,641.8v7.4M402.1,647.7h7.4M405.8,644v7.4M625.1,663.7h7.4M628.8,660v7.4M506.8,672.2h7.4M510.5,668.5v7.4M402.1,689.2h7.4M405.8,685.5v7.4M557.6,686.3h7.4M561.3,682.6v7.4M501.5,692.8h7.4M505.2,689.1v7.4M605.1,695h7.4M608.8,691.3v7.4M431.5,703.8h7.4M435.2,700.1v7.4M438.5,713.7h7.4M442.2,710v7.4M366.5,709.2h7.4M370.2,705.5v7.4M569,703.8h7.4M572.7,700.1v7.4M573.6,710.3h7.4M577.3,706.6v7.4M543.1,720h7.4M546.8,716.3v7.4M401.8,730h7.4M405.5,726.3v7.4M535.5,738.3h7.4M539.2,734.6v7.4M452.8,755.2h7.4M456.5,751.5v7.4M501.3,758h7.4M505,754.3v7.4M586,751.7h7.4M589.7,748v7.4M573.5,771.2h7.4M577.2,767.5v7.4M385.6,789.5h7.4M389.3,785.8v7.4M432.1,788.5h7.4M435.8,784.8v7.4M433,799.5h7.4M436.7,795.8v7.4M405,827.5h7.4M408.7,823.8v7.4M395.1,841.7h7.4M398.8,838v7.4M426.5,855.5h7.4M430.2,851.8v7.4M497,862.7h7.4M500.7,859v7.4M624.8,850.5h7.4M628.5,846.8v7.4M563.6,870.5h7.4M567.3,866.8v7.4M592.1,877.7h7.4M595.8,874v7.4M524,883h7.4M527.7,879.3v7.4M531.8,882.2h7.4M535.5,878.5v7.4M559.6,886.7h7.4M563.3,883v7.4M604.8,890.2h7.4M608.5,886.5v7.4M619.6,900h7.4M623.3,896.3v7.4M498.5,898.8h7.4M502.2,895.1v7.4M531,898.8h7.4M534.7,895.1v7.4M435.1,911h7.4M438.8,907.3v7.4M428.8,915.5h7.4M432.5,911.8v7.4M397.6,919.2h7.4M401.3,915.5v7.4M578,914.7h7.4M581.7,911v7.4M491.3,919.2h7.4M495,915.5v7.4M491.8,926.3h7.4M495.5,922.6v7.4M381.3,933.3h7.4M385,929.6v7.4M393.5,940h7.4M397.2,936.3v7.4M458.8,934.2h7.4M462.5,930.5v7.4M468.1,938.5h7.4M471.8,934.8v7.4M477.8,935.8h7.4M481.5,932.1v7.4M529.3,937.7h7.4M533,934v7.4M565.1,933.3h7.4M568.8,929.6v7.4M384,958.5h7.4M387.7,954.8v7.4M516.3,957.7h7.4M520,954v7.4M502.3,965h7.4M506,961.3v7.4M578.5,963.8h7.4M582.2,960.1v7.4M588.1,972.7h7.4M591.8,969v7.4M577.3,979.2h7.4M581,975.5v7.4M626.3,971h7.4M630,967.3v7.4M631,958.3h7.4M634.7,954.6v7.4M502.6,979.7h7.4M506.3,976v7.4M492.6,987.7h7.4M496.3,984v7.4M501,993.3h7.4M504.7,989.6v7.4M511.8,987.7h7.4M515.5,984v7.4M514,986h7.4M517.7,982.3v7.4M482,994.2h7.4M485.7,990.5v7.4M562.6,986.8h7.4M566.3,983.1v7.4M558,995.2h7.4M561.7,991.5v7.4M555.6,999.3h7.4M559.3,995.6v7.4M534,997.5h7.4M537.7,993.8v7.4M522.6,1000.8h7.4M526.3,997.1v7.4M520.1,1012.7h7.4M523.8,1009v7.4M521.8,1010h7.4M525.5,1006.3v7.4M559.3,1009.7h7.4M563,1006v7.4M583,1000.8h7.4M586.7,997.1v7.4M588.5,1003.5h7.4M592.2,999.8v7.4M595.1,1000.8h7.4M598.8,997.1v7.4M586.8,1013.3h7.4M590.5,1009.6v7.4M624.6,1004.3h7.4M628.3,1000.6v7.4M616.6,1009.7h7.4M620.3,1006v7.4M606.8,1015.5h7.4M610.5,1011.8v7.4M605.6,1018.8h7.4M609.3,1015.1v7.4M524.3,1022.2h7.4M528,1018.5v7.4M452.8,1017.7h7.4M456.5,1014v7.4M460.1,1028.3h7.4M463.8,1024.6v7.4M385.5,1025.8h7.4M389.2,1022.1v7.4M358.5,1031h7.4M362.2,1027.3v7.4M433.1,1032.5h7.4M436.8,1028.8v7.4M489,1036.3h7.4M492.7,1032.6v7.4M491.8,1070.8h7.4M495.5,1067.1v7.4M541,1079.5h7.4M544.7,1075.8v7.4M427.6,1097.8h7.4M431.3,1094.1v7.4M503.8,1101.2h7.4M507.5,1097.5v7.4M710.6,653.8h7.4M714.3,650.1v7.4M734,650.3h7.4M737.7,646.6v7.4M733.5,659.5h7.4M737.2,655.8v7.4M746.1,662.5h7.4M749.8,658.8v7.4M766.5,656.3h7.4M770.2,652.6v7.4M789.5,652h7.4M793.2,648.3v7.4M880.6,683h7.4M884.3,679.3v7.4M660.3,706h7.4M664,702.3v7.4M634.8,724.2h7.4M638.5,720.5v7.4M855.1,729.7h7.4M858.8,726v7.4M906.5,736.7h7.4M910.2,733v7.4M744.3,734.7h7.4M748,731v7.4M747.3,743h7.4M751,739.3v7.4M665.6,739.5h7.4M669.3,735.8v7.4M668.6,753.7h7.4M672.3,750v7.4M691.5,755.8h7.4M695.2,752.1v7.4M701.1,763.8h7.4M704.8,760.1v7.4M725.3,751.5h7.4M729,747.8v7.4M730,762.5h7.4M733.7,758.8v7.4M746.5,755.8h7.4M750.2,752.1v7.4M741.5,768h7.4M745.2,764.3v7.4M743.1,770.8h7.4M746.8,767.1v7.4M878.3,766.7h7.4M882,763v7.4M644,783.3h7.4M647.7,779.6v7.4M670.1,788.5h7.4M673.8,784.8v7.4M759.8,839.3h7.4M763.5,835.6v7.4M701.3,853.8h7.4M705,850.1v7.4M776,851h7.4M779.7,847.3v7.4M796.3,852h7.4M800,848.3v7.4M895.6,860.7h7.4M899.3,857v7.4M871.8,873.8h7.4M875.5,870.1v7.4M649.3,886.3h7.4M653,882.6v7.4M720.1,881h7.4M723.8,877.3v7.4M745.1,881h7.4M748.8,877.3v7.4M769,879.3h7.4M772.7,875.6v7.4M855.1,896h7.4M858.8,892.3v7.4M711.8,897.5h7.4M715.5,893.8v7.4M720.3,903h7.4M724,899.3v7.4M735,896h7.4M738.7,892.3v7.4M777.3,896.8h7.4M781,893.1v7.4M762.6,901.3h7.4M766.3,897.6v7.4M767.6,908.3h7.4M771.3,904.6v7.4M696.8,911.8h7.4M700.5,908.1v7.4M766.5,919.2h7.4M770.2,915.5v7.4M899,906.3h7.4M902.7,902.6v7.4M891.6,911h7.4M895.3,907.3v7.4M726,922.5h7.4M729.7,918.8v7.4M736.5,930.2h7.4M740.2,926.5v7.4M774.5,930.2h7.4M778.2,926.5v7.4M645.3,929.5h7.4M649,925.8v7.4M688.8,932.2h7.4M692.5,928.5v7.4M891.5,932.2h7.4M895.2,928.5v7.4M898.3,936.7h7.4M902,933v7.4M885.8,942h7.4M889.5,938.3v7.4M872.3,946.7h7.4M876,943v7.4M791.1,948h7.4M794.8,944.3v7.4M662.8,963h7.4M666.5,959.3v7.4M698.3,962.2h7.4M702,958.5v7.4M740.5,965.8h7.4M744.2,962.1v7.4M765.3,967.5h7.4M769,963.8v7.4M883.5,956.8h7.4M887.2,953.1v7.4M882,964.2h7.4M885.7,960.5v7.4M871,976.3h7.4M874.7,972.6v7.4M872.8,974.7h7.4M876.5,971v7.4M692.6,979h7.4M696.3,975.3v7.4M699.8,986.3h7.4M703.5,982.6v7.4M703.1,985.5h7.4M706.8,981.8v7.4M705.6,984.7h7.4M709.3,981v7.4M664.8,986h7.4M668.5,982.3v7.4M790.6,985.2h7.4M794.3,981.5v7.4M874.8,988h7.4M878.5,984.3v7.4M876,989.3h7.4M879.7,985.6v7.4M890.3,985.2h7.4M894,981.5v7.4M908.1,991.3h7.4M911.8,987.6v7.4M635.6,1003h7.4M639.3,999.3v7.4M639.8,1015h7.4M643.5,1011.3v7.4M737.6,998.5h7.4M741.3,994.8v7.4M743.6,1003.8h7.4M747.3,1000.1v7.4M747.6,1003.8h7.4M751.3,1000.1v7.4M762.3,1000h7.4M766,996.3v7.4M728.3,1009.7h7.4M732,1006v7.4M778.5,1010.7h7.4M782.2,1007v7.4M721.8,1021.3h7.4M725.5,1017.6v7.4M729.8,1023.8h7.4M733.5,1020.1v7.4M773.1,1026.7h7.4M776.8,1023v7.4M798.1,1019.3h7.4M801.8,1015.6v7.4M799.8,1021.3h7.4M803.5,1017.6v7.4M798.6,1026.3h7.4M802.3,1022.6v7.4M737.6,1034.3h7.4M741.3,1030.6v7.4M874,1035.5h7.4M877.7,1031.8v7.4M908.1,1031h7.4M911.8,1027.3v7.4M727.3,1053h7.4M731,1049.3v7.4M734.8,1067.8h7.4M738.5,1064.1v7.4M869.8,1083.7h7.4M873.5,1080v7.4M855.4,1101.7h7.4M859.1,1098v7.4M856.6,1101.7h7.4M860.3,1098v7.4M857.8,1101.7h7.4M861.5,1098v7.4M858.7,1101.7h7.4M862.4,1098v7.4M1162.3,698.7h7.4M1166,695v7.4M1054.5,764.2h7.4M1058.2,760.5v7.4M1053.3,769.2h7.4M1057,765.5v7.4M1067.8,784.2h7.4M1071.5,780.5v7.4M1014,796.3h7.4M1017.7,792.6v7.4M1015.1,809.7h7.4M1018.8,806v7.4M1043.6,813.3h7.4M1047.3,809.6v7.4M1037.3,823h7.4M1041,819.3v7.4M1005.6,828.3h7.4M1009.3,824.6v7.4M1072.3,830h7.4M1076,826.3v7.4M1091.5,810.5h7.4M1095.2,806.8v7.4M1134.6,802.5h7.4M1138.3,798.8v7.4M1155,793.7h7.4M1158.7,790v7.4M1117.3,825.3h7.4M1121,821.6v7.4M1139,829.7h7.4M1142.7,826v7.4M1115.6,834.2h7.4M1119.3,830.5v7.4M1011.1,847.7h7.4M1014.8,844v7.4M1024.5,851h7.4M1028.2,847.3v7.4M1034,855.2h7.4M1037.7,851.5v7.4M1049,846.7h7.4M1052.7,843v7.4M1058.6,854.7h7.4M1062.3,851v7.4M1063.1,866.3h7.4M1066.8,862.6v7.4M1039.5,868h7.4M1043.2,864.3v7.4M1012.8,864.3h7.4M1016.5,860.6v7.4M995.3,855.2h7.4M999,851.5v7.4M992,863.5h7.4M995.7,859.8v7.4M944.5,853h7.4M948.2,849.3v7.4M936.1,855.2h7.4M939.8,851.5v7.4M982.5,873.8h7.4M986.2,870.1v7.4M928.1,878.5h7.4M931.8,874.8v7.4M948.6,881.3h7.4M952.3,877.6v7.4M967.6,882.2h7.4M971.3,878.5v7.4M986.6,891.7h7.4M990.3,888v7.4M942,891.7h7.4M945.7,888v7.4M935.3,896h7.4M939,892.3v7.4M924,900.5h7.4M927.7,896.8v7.4M926.6,910.2h7.4M930.3,906.5v7.4M1135.3,847.7h7.4M1139,844v7.4M1127.8,857.7h7.4M1131.5,854v7.4M1057,906.3h7.4M1060.7,902.6v7.4M1062.8,915.5h7.4M1066.5,911.8v7.4M1011.1,911h7.4M1014.8,907.3v7.4M1013.3,909.3h7.4M1017,905.6v7.4M1022,910.2h7.4M1025.7,906.5v7.4M1008.3,918.5h7.4M1012,914.8v7.4M922.8,922.2h7.4M926.5,918.5v7.4M925.3,926.3h7.4M929,922.6v7.4M932.3,925.2h7.4M936,921.5v7.4M958.3,924.3h7.4M962,920.6v7.4M944.3,934h7.4M948,930.3v7.4M1091.6,917.3h7.4M1095.3,913.6v7.4M1148.6,920h7.4M1152.3,916.3v7.4M1158,934h7.4M1161.7,930.3v7.4M1155.3,951h7.4M1159,947.3v7.4M1016.6,945.5h7.4M1020.3,941.8v7.4M1012.5,952.7h7.4M1016.2,949v7.4M978.3,956.3h7.4M982,952.6v7.4M1114.6,971h7.4M1118.3,967.3v7.4M947.3,980.7h7.4M951,977v7.4M1069,981.3h7.4M1072.7,977.6v7.4M997.3,988.8h7.4M1001,985.1v7.4M1045,994h7.4M1048.7,990.3v7.4M1023.3,999.2h7.4M1027,995.5v7.4M1118.6,990.3h7.4M1122.3,986.6v7.4M968.6,995.5h7.4M972.3,991.8v7.4M952.8,1000.5h7.4M956.5,996.8v7.4M957,1006.3h7.4M960.7,1002.6v7.4M985.3,1002.7h7.4M989,999v7.4M934,1008.8h7.4M937.7,1005.1v7.4M996.1,1011.7h7.4M999.8,1008v7.4M966.1,1013.3h7.4M969.8,1009.6v7.4M927.8,1019.3h7.4M931.5,1015.6v7.4M934,1017.7h7.4M937.7,1014v7.4M944.5,1021.3h7.4M948.2,1017.6v7.4M1011.1,1026.7h7.4M1014.8,1023v7.4M1044.5,1029.7h7.4M1048.2,1026v7.4M1048.3,1027.2h7.4M1052,1023.5v7.4M959.5,1036.3h7.4M963.2,1032.6v7.4M987,1036.3h7.4M990.7,1032.6v7.4M1088.6,1048.7h7.4M1092.3,1045v7.4M1141,1047.8h7.4M1144.7,1044.1v7.4M992.5,1075.3h7.4M996.2,1071.6v7.4M1053.6,1100.5h7.4M1057.3,1096.8v7.4M1178.8,871.7h7.4M1182.5,868v7.4M1182.6,898h7.4M1186.3,894.3v7.4M1225,886.3h7.4M1228.7,882.6v7.4M1279.1,874.2h7.4M1282.8,870.5v7.4M1296.6,876h7.4M1300.3,872.3v7.4M1344.3,868.7h7.4M1348,865v7.4M1338.8,878.7h7.4M1342.5,875v7.4M1431.3,897h7.4M1435,893.3v7.4M1449,912.2h7.4M1452.7,908.5v7.4M1445,942h7.4M1448.7,938.3v7.4M1240.1,916.7h7.4M1243.8,913v7.4M1292.1,910.8h7.4M1295.8,907.1v7.4M1325.6,909.3h7.4M1329.3,905.6v7.4M1340.5,914.7h7.4M1344.2,911v7.4M1353.8,908.7h7.4M1357.5,905v7.4M1263,924.2h7.4M1266.7,920.5v7.4M1287.6,924.2h7.4M1291.3,920.5v7.4M1280.5,930.8h7.4M1284.2,927.1v7.4M1302.5,931.7h7.4M1306.2,928v7.4M1319.6,925h7.4M1323.3,921.3v7.4M1325.1,929.7h7.4M1328.8,926v7.4M1196.1,940.3h7.4M1199.8,936.6v7.4M1196.3,958.8h7.4M1200,955.1v7.4M1319,969.5h7.4M1322.7,965.8v7.4M1338.8,970.3h7.4M1342.5,966.6v7.4M1357.3,971.8h7.4M1361,968.1v7.4M1216.3,981.7h7.4M1220,978v7.4M1197.3,988h7.4M1201,984.3v7.4M1253.1,979h7.4M1256.8,975.3v7.4M1264.1,981.8h7.4M1267.8,978.1v7.4M1272.5,995.8h7.4M1276.2,992.1v7.4M1205.8,1001.3h7.4M1209.5,997.6v7.4M1193.3,1025h7.4M1197,1021.3v7.4M1215.3,1028.5h7.4M1219,1024.8v7.4M1283.1,1021.3h7.4M1286.8,1017.6v7.4M1352.5,1047.8h7.4M1356.2,1044.1v7.4M1317.5,1057h7.4M1321.2,1053.3v7.4M1434.6,1072.5h7.4M1438.3,1068.8v7.4M1334.6,1100.8h7.4M1338.3,1097.1v7.4M1557.6,942.8h7.4M1561.3,939.1v7.4M1654.3,948h7.4M1658,944.3v7.4M1605.6,957.8h7.4M1609.3,954.1v7.4M1585.1,961.3h7.4M1588.8,957.6v7.4M1576.8,969.5h7.4M1580.5,965.8v7.4M1601.5,976.2h7.4M1605.2,972.5v7.4M1492.3,962.2h7.4M1496,958.5v7.4M1464.1,967.7h7.4M1467.8,964v7.4M1529.1,982.7h7.4M1532.8,979v7.4M1642.8,994.7h7.4M1646.5,991v7.4M1634,1002h7.4M1637.7,998.3v7.4M1624.5,1013.2h7.4M1628.2,1009.5v7.4M1491.1,1008.8h7.4M1494.8,1005.1v7.4M1499.5,1013.2h7.4M1503.2,1009.5v7.4M1519,1018.7h7.4M1522.7,1015v7.4M1538.6,1018.7h7.4M1542.3,1015v7.4M1653.3,1024h7.4M1657,1020.3v7.4M1654.3,1035.3h7.4M1658,1031.6v7.4M1614,1073.2h7.4M1617.7,1069.5v7.4M1482.1,1083.8h7.4M1485.8,1080.1v7.4M1472.3,1096.2h7.4M1476,1092.5v7.4M1554.3,1083.7h7.4M1558,1080v7.4M1540.6,1092.5h7.4M1544.3,1088.8v7.4M1554,1092.5h7.4M1557.7,1088.8v7.4M1556,1091.7h7.4M1559.7,1088v7.4M1604.3,1098h7.4M1608,1094.3v7.4M547.6,150.7h7.4M551.3,147v7.4M549.3,482.3h7.4M553,478.6v7.4M1657,171h7.4M1660.7,167.3v7.4M1602.6,207h7.4M1606.3,203.3v7.4M1191.9,679h7.4M1195.6,675.3v7.4M1194.4,680.2h7.4M1198.1,676.5v7.4M1344.4,673.8h7.4M1348.1,670v7.4M1345,676.2h7.4M1348.8,672.5v7.4M1471.8,714.6h7.4M1475.5,710.9v7.4M1500.5,726.2h7.4M1504.2,722.5v7.4" stroke="#4896ec" stroke-width="2.45" fill="none"/>
<!-- axis -->
<line x1="47" y1="1101.6" x2="1662" y2="1101.6" stroke="#111" stroke-width="2.1"/>
<!-- red lines -->
<g stroke="#c8392b" stroke-width="3.5" stroke-opacity="0.93">
<line x1="248.8" y1="500.1" x2="248.8" y2="1102.8"/>
<line x1="1077.05" y1="568.4" x2="1077.05" y2="1102.8"/>
<line x1="1424.8" y1="641.9" x2="1424.8" y2="1102.8"/>
</g>
<!-- x labels -->
<g class="ax">
<text transform="translate(43.6,1109.6) rotate(90)" textLength="67.6" lengthAdjust="spacing">12.11.2022</text>
<text transform="translate(446.8,1109) rotate(90)" textLength="53" lengthAdjust="spacing">4.9.2023</text>
<text transform="translate(850,1109) rotate(90)" textLength="60.6" lengthAdjust="spacing">27.6.2024</text>
<text transform="translate(1253.4,1109) rotate(90)" textLength="60.6" lengthAdjust="spacing">20.4.2025</text>
<text transform="translate(1657,1109.6) rotate(90)" textLength="60.4" lengthAdjust="spacing">10.2.2026</text>
</g>
<text class="ax" x="854" y="1197" text-anchor="middle">Dates</text>
</svg>
</body>
</html>
